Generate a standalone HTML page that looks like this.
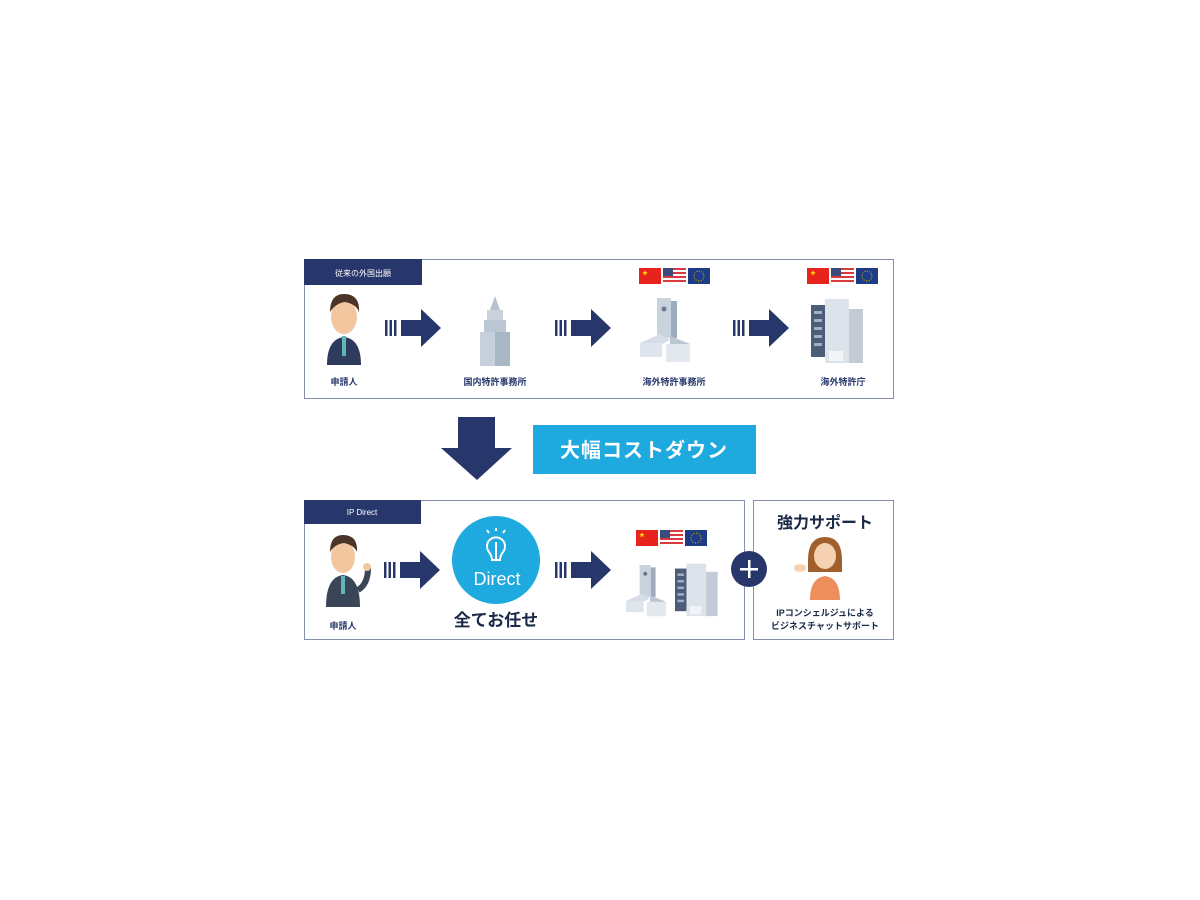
<!DOCTYPE html>
<html><head><meta charset="utf-8"><style>
html,body{margin:0;padding:0;background:#fff;width:1200px;height:900px;overflow:hidden}
svg text{font-family:"Liberation Sans","Noto Sans CJK JP",sans-serif}
</style></head><body>
<svg width="1200" height="900" viewBox="0 0 1200 900" xmlns="http://www.w3.org/2000/svg">
<defs>
<g id="arr">
<rect x="0" y="-8" width="2.5" height="16" fill="#28376b"/>
<rect x="4.5" y="-8" width="2.5" height="16" fill="#28376b"/>
<rect x="9" y="-8" width="2.5" height="16" fill="#28376b"/>
<polygon points="16,-8 36,-8 36,-19 56,0 36,19 36,8 16,8" fill="#28376b"/>
</g>
<g id="flags">
<rect x="0" y="0" width="22" height="16" fill="#e8231e"/>
<text x="3" y="7" font-size="6" fill="#ffde00">★</text>
<rect x="24" y="0" width="23" height="16" fill="#fff"/>
<g fill="#d8393f"><rect x="24" y="0" width="23" height="2"/><rect x="24" y="4" width="23" height="2"/><rect x="24" y="8" width="23" height="2"/><rect x="24" y="12" width="23" height="2"/></g>
<rect x="24" y="0" width="10" height="8" fill="#3b4b7a"/>
<rect x="49" y="0" width="22" height="16" fill="#1d3c85"/>
<circle cx="60" cy="8" r="5" fill="none" stroke="#e7c400" stroke-width="1" stroke-dasharray="1 1.6"/>
</g>
<g id="bldgA">
<rect x="17" y="0" width="14" height="40" fill="#c9d3de"/>
<rect x="31" y="3" width="6" height="37" fill="#9eacbd"/>
<circle cx="24" cy="11" r="2.5" fill="#6b7890"/>
<polygon points="0,45 20,36 30,42 10,52" fill="#d6dde6"/>
<rect x="0" y="45" width="22" height="14" fill="#dfe5ec"/>
<polygon points="30,38 50,46 50,62 30,54" fill="#bcc7d3"/>
<rect x="26" y="46" width="24" height="18" fill="#e3e8ee"/>
</g>
<g id="bldgB">
<rect x="0" y="8" width="14" height="52" fill="#4d5d78"/>
<g fill="#9db0c8"><rect x="3" y="14" width="8" height="3"/><rect x="3" y="22" width="8" height="3"/><rect x="3" y="30" width="8" height="3"/><rect x="3" y="38" width="8" height="3"/><rect x="3" y="46" width="8" height="3"/></g>
<rect x="14" y="2" width="24" height="64" fill="#dde3ea"/>
<rect x="38" y="12" width="14" height="54" fill="#c3ccd6"/>
<rect x="18" y="54" width="14" height="10" fill="#f2f4f7"/>
</g>
</defs>

<rect x="304.5" y="259.5" width="589" height="139" fill="#fff" stroke="#8590b0"/>
<rect x="304" y="259" width="118" height="26" fill="#28376b"/>
<text x="363" y="276" font-size="8" fill="#fff" text-anchor="middle">従来の外国出願</text>

<g>
<ellipse cx="344" cy="317" rx="13" ry="17" fill="#f2c7a0"/>
<path d="M330 312 q0-18 14-18 q16 0 15 18 q-3-8-14-10 q-9 1-15 10z" fill="#4a3528"/>
<path d="M327 365 q0-26 17-28 q17 2 17 28z" fill="#2f3b5c"/>
<rect x="342" y="336" width="4" height="20" fill="#5fb7b5"/>
</g>
<text x="344" y="385" font-size="9" font-weight="bold" fill="#28376b" text-anchor="middle">申請人</text>

<use href="#arr" x="385" y="328"/>
<g>
<polygon points="495,296 490,310 500,310" fill="#b7c3d1"/>
<rect x="487" y="310" width="16" height="10" fill="#c9d2dd"/>
<rect x="484" y="320" width="22" height="12" fill="#bcc7d4"/>
<rect x="480" y="332" width="30" height="34" fill="#c6d0dc"/>
<rect x="495" y="332" width="15" height="34" fill="#a9b6c6"/>
</g>
<text x="495" y="385" font-size="9" font-weight="bold" fill="#28376b" text-anchor="middle">国内特許事務所</text>

<use href="#arr" x="555" y="328"/>
<use href="#flags" x="639" y="268"/>
<use href="#bldgA" x="640" y="298"/>
<text x="674" y="385" font-size="9" font-weight="bold" fill="#28376b" text-anchor="middle">海外特許事務所</text>

<use href="#arr" x="733" y="328"/>
<use href="#flags" x="807" y="268"/>
<use href="#bldgB" x="811" y="297"/>
<text x="843" y="385" font-size="9" font-weight="bold" fill="#28376b" text-anchor="middle">海外特許庁</text>

<polygon points="458,417 495,417 495,448 512,448 477,480 441,448 458,448" fill="#28376b"/>
<rect x="533" y="425" width="223" height="49" fill="#1ea9df"/>
<text x="644" y="457" font-size="20" font-weight="bold" fill="#fff" text-anchor="middle" letter-spacing="1">大幅コストダウン</text>

<rect x="304.5" y="500.5" width="440" height="139" fill="#fff" stroke="#8590b0"/>
<rect x="304" y="500" width="117" height="24" fill="#28376b"/>
<text x="362" y="515" font-size="8" fill="#fff" text-anchor="middle">IP Direct</text>

<g>
<ellipse cx="343" cy="557" rx="12" ry="16" fill="#f2c7a0"/>
<path d="M330 552 q0-17 13-17 q15 0 14 17 q-3-7-13-9 q-9 1-14 9z" fill="#4a3528"/>
<path d="M326 607 q0-30 17-32 q17 2 17 32z" fill="#3a4558"/>
<path d="M358 590 q10-6 10-22" stroke="#3a4558" stroke-width="6" fill="none"/>
<circle cx="367" cy="567" r="4" fill="#f2c7a0"/>
<rect x="341" y="576" width="4" height="18" fill="#5fb7b5"/>
</g>
<text x="343" y="629" font-size="9" font-weight="bold" fill="#28376b" text-anchor="middle">申請人</text>

<use href="#arr" x="384" y="570"/>
<circle cx="496" cy="560" r="44" fill="#1ea9df"/>
<g stroke="#fff" stroke-width="2" fill="none">
<path d="M489 552 a9 9 0 1 1 14 0 q-3 4-3 8 h-8 q0-4-3-8z"/>
<line x1="496" y1="542" x2="496" y2="560"/>
<line x1="489" y1="533" x2="487" y2="530"/><line x1="496" y1="531" x2="496" y2="528"/><line x1="503" y1="533" x2="505" y2="530"/>
</g>
<text x="497" y="585" font-size="18" fill="#fff" text-anchor="middle">Direct</text>
<text x="496" y="626" font-size="17" font-weight="bold" fill="#1c2a4a" text-anchor="middle">全てお任せ</text>

<use href="#arr" x="555" y="570"/>
<use href="#flags" x="636" y="530"/>
<use href="#bldgA" x="626" y="565" transform="translate(626 565) scale(0.8) translate(-626 -565)"/>
<use href="#bldgB" x="675" y="562" transform="translate(675 562) scale(0.82) translate(-675 -562)"/>

<rect x="753.5" y="500.5" width="140" height="139" fill="#fff" stroke="#8590b0"/>
<text x="825" y="528" font-size="16" font-weight="bold" fill="#1c2a4a" text-anchor="middle">強力サポート</text>
<g>
<path d="M808 560 q0-23 17-23 q17 0 17 23 l0 12 h-34z" fill="#a0602e"/>
<ellipse cx="825" cy="556" rx="11" ry="13" fill="#f6d1b1"/>
<path d="M810 600 q0-22 15-24 q15 2 15 24z" fill="#ee8e5d"/>
<ellipse cx="800" cy="568" rx="6" ry="4" fill="#f6d1b1"/>
</g>
<text x="825" y="616" font-size="9" font-weight="bold" fill="#1c2a4a" text-anchor="middle">IPコンシェルジュによる</text>
<text x="825" y="629" font-size="9" font-weight="bold" fill="#1c2a4a" text-anchor="middle">ビジネスチャットサポート</text>

<circle cx="749" cy="569" r="18" fill="#28376b"/>
<rect x="740" y="568" width="18" height="2.5" fill="#fff"/>
<rect x="748" y="560" width="2.5" height="18" fill="#fff"/>
</svg>
</body></html>
